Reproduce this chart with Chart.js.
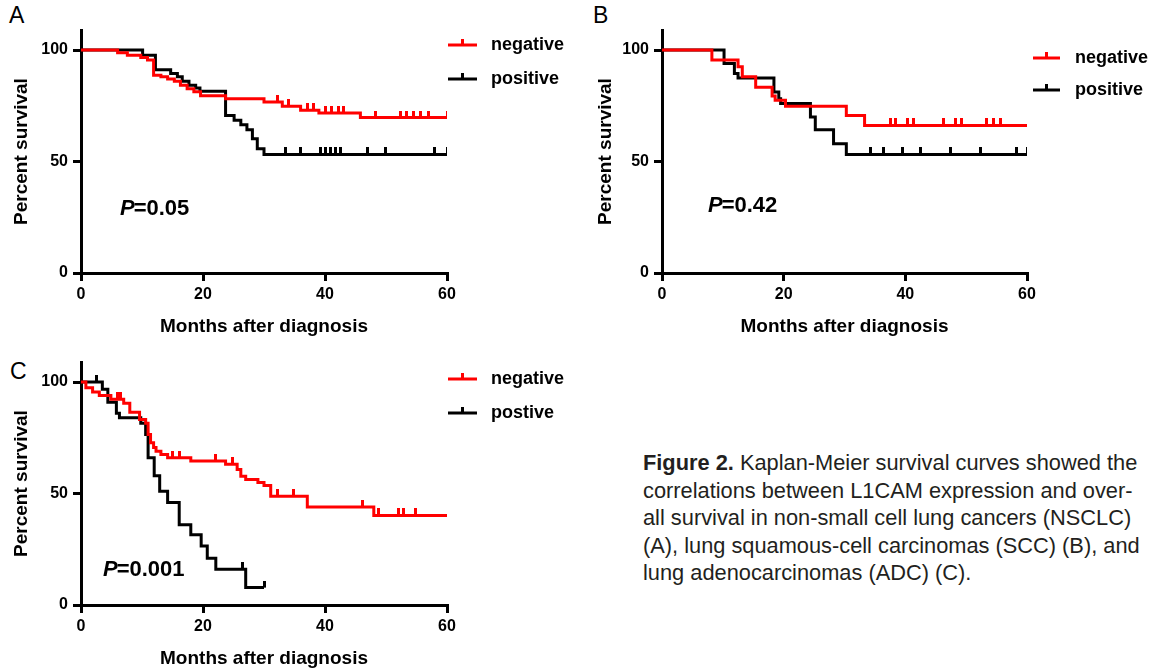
<!DOCTYPE html>
<html>
<head>
<meta charset="utf-8">
<script src="https://cdn.jsdelivr.net/npm/chart.js@4.4.1/dist/chart.umd.min.js"></script>
<style>
  body { margin: 0; background: #fff; width: 1159px; height: 669px; overflow: hidden; position: relative; font-family: "Liberation Sans", Arial, sans-serif; }
  canvas { position: absolute; }
  .tag { position: absolute; font-size: 23px; line-height: 23px; color: #000; }
  .caption { position: absolute; left: 643px; top: 449px; font-size: 21.8px; line-height: 27.5px; color: #231f20; white-space: nowrap; }
</style>
</head>
<body>
<div class="tag" style="left:9px;top:4px">A</div>
<div class="tag" style="left:593px;top:4px">B</div>
<div class="tag" style="left:10px;top:360px">C</div>

<canvas id="chartA" width="590" height="338" style="left:0;top:0"></canvas>
<canvas id="chartB" width="578" height="338" style="left:581px;top:0"></canvas>
<canvas id="chartC" width="590" height="338" style="left:0;top:332px"></canvas>

<div class="caption"><b>Figure 2.</b> Kaplan-Meier survival curves showed the<br>correlations between L1CAM expression and over-<br>all survival in non-small cell lung cancers (NSCLC)<br>(A), lung squamous-cell carcinomas (SCC) (B), and<br>lung adenocarcinomas (ADC) (C).</div>

<script>
const MONTH_TICKS = [0, 20, 40, 60];
const SURVIVAL_TICKS = [0, 50, 100];

// A: NSCLC
const negTimesA = [0, 6.0, 7.6, 9.8, 10.9, 11.9, 13.1, 14.2, 15.3, 16.3, 17.4, 18.5, 19.6, 23.7, 30.0, 33.0, 36.0, 39.0, 45.8, 60];
const negSurvA  = [100, 98.8, 97.7, 96.7, 95.5, 88.7, 88.0, 87.0, 86.0, 84.2, 82.7, 81.3, 79.5, 78.2, 76.7, 74.8, 73.0, 71.8, 69.7, 69.7];
const negCensA  = [32.2, 34.0, 37.1, 38.1, 40.0, 41.1, 42.2, 43.0, 48.2, 52.3, 53.4, 54.5, 55.6, 56.9, 60];
const posTimesA = [0, 10.1, 12.2, 14.7, 15.8, 16.6, 17.7, 18.8, 19.5, 23.7, 25.1, 26.2, 27.2, 28.1, 28.9, 30.0, 60];
const posSurvA  = [100, 97.7, 91.2, 89.5, 88.0, 86.0, 84.2, 83.0, 81.5, 70.7, 68.5, 66.5, 64.3, 60.2, 55.7, 53.2, 53.2];
const posCensA  = [33.5, 36.0, 39.2, 40.0, 40.9, 41.7, 42.5, 46.9, 49.9, 58.0, 60];

// B: SCC
const negTimesB = [0, 8.2, 12.5, 13.2, 15.4, 18.1, 18.6, 20.3, 30.3, 33.3, 60];
const negSurvB  = [100, 95.5, 92.5, 88.0, 83.3, 79.4, 77.5, 74.8, 70.7, 66.2, 66.2];
const negCensB  = [37.5, 38.4, 40.3, 41.4, 46.3, 48.2, 49.3, 53.4, 54.5, 55.6];
const posTimesB = [0, 10.2, 11.9, 12.5, 18.4, 19.2, 19.5, 24.4, 25.2, 28.2, 30.3, 60];
const posSurvB  = [100, 94.0, 89.5, 87.5, 81.2, 78.2, 76.0, 70.0, 64.3, 58.0, 53.2, 53.2];
const posCensB  = [34.3, 36.4, 39.5, 42.5, 47.4, 52.3, 58.3, 60];

// C: ADC
const negTimesC = [0, 0.8, 1.9, 3.0, 4.9, 7.0, 8.0, 9.6, 10.6, 11.0, 11.4, 11.9, 12.3, 13.1, 14.2, 18.0, 23.7, 25.6, 26.2, 27.0, 29.0, 30.0, 31.1, 37.1, 48.0, 60];
const negSurvC  = [100, 97.5, 95.5, 94.0, 92.3, 90.5, 86.5, 83.2, 81.5, 76.5, 72.8, 70.6, 69.0, 67.5, 66.1, 64.6, 63.1, 60.8, 57.8, 56.3, 55.0, 53.6, 48.8, 44.0, 40.2, 40.2];
const negCensC  = [6.0, 6.5, 15.0, 16.1, 22.1, 24.8, 32.2, 34.9, 46.1, 48.8, 52.1, 52.9, 54.8];
const posTimesC = [0, 3.5, 4.4, 5.8, 6.3, 9.8, 10.6, 11.0, 12.0, 12.9, 14.2, 16.1, 18.0, 19.7, 20.7, 22.1, 27.0, 30.0];
const posSurvC  = [100, 96.8, 91.0, 86.0, 84.0, 81.5, 76.5, 66.0, 58.0, 51.0, 46.0, 36.0, 31.5, 26.5, 21.0, 16.0, 7.8, 7.8];
const posCensC  = [2.5, 26.4, 30.0];

const RED = "#ff0000";
const BLACK = "#000000";

Chart.defaults.font.family = "'Liberation Sans', Arial, sans-serif";
Chart.defaults.color = BLACK;

function survivalAt(times, surv, t) {
  let s = surv[0];
  for (let i = 0; i < times.length; i++) if (times[i] <= t) s = surv[i];
  return s;
}

// little upward tick used for censored cases
function censorMark(color) {
  const c = document.createElement("canvas");
  c.width = 3; c.height = 14;
  const g = c.getContext("2d");
  g.fillStyle = color;
  g.fillRect(0, 0, 3, 7);
  return c;
}

function curve(label, color, times, surv) {
  return {
    label, borderColor: color, backgroundColor: color,
    data: times.map((t, i) => ({ x: t, y: surv[i] })),
    showLine: true, stepped: true, borderWidth: 3, pointRadius: 0, kmLegend: true,
  };
}

function censors(color, times, surv, cens) {
  return {
    label: "", data: cens.map(t => ({ x: t, y: survivalAt(times, surv, t) })),
    showLine: false, pointStyle: censorMark(color), pointRadius: 5,
  };
}

const kmLegend = {
  id: "kmLegend",
  afterDraw(chart, args, opts) {
    const { ctx, chartArea } = chart;
    const items = chart.data.datasets.filter(d => d.kmLegend);
    ctx.save();
    items.forEach((d, i) => {
      const y = opts.ys[i];
      const x0 = chartArea.right + opts.lineFrom, x1 = chartArea.right + opts.lineTo;
      ctx.strokeStyle = d.borderColor;
      ctx.lineWidth = 3;
      ctx.beginPath(); ctx.moveTo(x0, y); ctx.lineTo(x1, y); ctx.stroke();
      ctx.fillStyle = d.borderColor;
      ctx.fillRect((x0 + x1) / 2 - 1.5, y - 6, 3, 6);
      ctx.fillStyle = BLACK;
      ctx.font = "bold 18px 'Liberation Sans', Arial, sans-serif";
      ctx.textBaseline = "middle";
      ctx.fillText(d.label, chartArea.right + opts.textX, y);
    });
    // p value
    const p = opts.p;
    ctx.font = "italic bold 22px 'Liberation Sans', Arial, sans-serif";
    ctx.textBaseline = "middle";
    const px = chartArea.left + p.x, py = chartArea.top + p.y;
    ctx.fillText("P", px, py);
    const w = ctx.measureText("P").width;
    ctx.font = "bold 22px 'Liberation Sans', Arial, sans-serif";
    ctx.fillText(p.text, px + w - 1, py);
    ctx.restore();
  }
};

function kmChart(id, sets, legendOpts, yTitlePad, rightPad) {
  const canvas = document.getElementById(id);
  return new Chart(canvas, {
    type: "scatter",
    data: { datasets: sets },
    options: {
      responsive: false,
      animation: false,
      layout: { padding: { top: 30, right: rightPad, bottom: 0, left: 0 } },
      plugins: { legend: { display: false }, tooltip: { enabled: false }, kmLegend: legendOpts },
      scales: {
        x: {
          type: "linear", min: 0, max: 60,
          afterBuildTicks: s => { s.ticks = MONTH_TICKS.map(v => ({ value: v })); },
          afterFit: s => { s.height = 65; },
          ticks: { font: { size: 16, weight: "bold" }, padding: 4, color: BLACK },
          grid: { drawOnChartArea: false, color: BLACK, lineWidth: 3, tickLength: 8 },
          border: { color: BLACK, width: 3 },
          title: { display: true, text: "Months after diagnosis", font: { size: 19, weight: "bold" }, padding: { top: 0, bottom: 0 }, color: BLACK },
        },
        y: {
          min: 0, max: 109,
          afterBuildTicks: s => { s.ticks = SURVIVAL_TICKS.map(v => ({ value: v })); },
          afterFit: s => { s.width = 81; },
          ticks: { font: { size: 16, weight: "bold" }, padding: 5, color: BLACK },
          grid: { drawOnChartArea: false, color: BLACK, lineWidth: 3, tickLength: 8 },
          border: { color: BLACK, width: 3 },
          title: { display: true, text: "Percent survival", font: { size: 19, weight: "bold" }, padding: { top: yTitlePad, bottom: 0 }, color: BLACK },
        }
      }
    },
    plugins: [kmLegend]
  });
}

kmChart("chartA", [
  curve("negative", RED, negTimesA, negSurvA),
  curve("positive", BLACK, posTimesA, posSurvA),
  censors(RED, negTimesA, negSurvA, negCensA),
  censors(BLACK, posTimesA, posSurvA, posCensA),
], { ys: [45, 79], lineFrom: 1, lineTo: 30, textX: 44, p: { x: 39, y: 179, text: "=0.05" } }, 10, 143);

kmChart("chartB", [
  curve("negative", RED, negTimesB, negSurvB),
  curve("positive", BLACK, posTimesB, posSurvB),
  censors(RED, negTimesB, negSurvB, negCensB),
  censors(BLACK, posTimesB, posSurvB, posCensB),
], { ys: [58, 90], lineFrom: 6, lineTo: 33, textX: 48, p: { x: 46, y: 176, text: "=0.42" } }, 13, 132);

kmChart("chartC", [
  curve("negative", RED, negTimesC, negSurvC),
  curve("postive", BLACK, posTimesC, posSurvC),
  censors(RED, negTimesC, negSurvC, negCensC),
  censors(BLACK, posTimesC, posSurvC, posCensC),
], { ys: [47, 81], lineFrom: 1, lineTo: 30, textX: 44, p: { x: 22, y: 208, text: "=0.001" } }, 10, 143);
</script>
</body>
</html>
